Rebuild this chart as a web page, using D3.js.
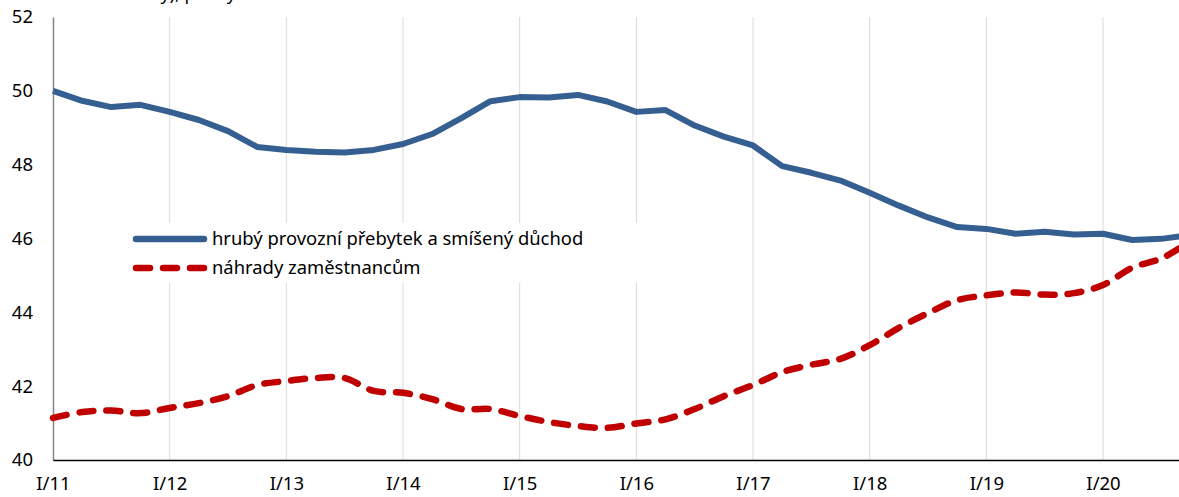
<!DOCTYPE html>
<html>
<head>
<meta charset="utf-8">
<script src="https://cdn.jsdelivr.net/npm/d3@7"></script>
<style>
  body { margin: 0; background: #fff; }
  svg { display: block; font-family: "Noto Sans", sans-serif; }
</style>
</head>
<body>
<div id="chart"></div>
<script>
// quarters I/11 .. IV/20
const years = ["11", "12", "13", "14", "15", "16", "17", "18", "19", "20"]
const quarters = ["I", "II", "III", "IV"]
const periods = []
years.forEach(y => quarters.forEach(q => periods.push(q + "/" + y)))

const surplus = [
  50.0, 49.73, 49.56, 49.62,
  49.43, 49.21, 48.91, 48.48,
  48.40, 48.35, 48.33, 48.40,
  48.56, 48.83, 49.26, 49.72,
  49.83, 49.82, 49.89, 49.71,
  49.43, 49.48, 49.06, 48.76,
  48.52, 47.96, 47.78, 47.57,
  47.24, 46.89, 46.57, 46.31,
  46.26, 46.13, 46.18, 46.11,
  46.13, 45.96, 45.99, 46.10
]
const wages = [
  41.14, 41.30, 41.34, 41.27,
  41.41, 41.54, 41.73, 42.03,
  42.14, 42.22, 42.22, 41.87,
  41.82, 41.65, 41.38, 41.38,
  41.19, 41.03, 40.92, 40.87,
  40.99, 41.10, 41.38, 41.73,
  42.03, 42.38, 42.58, 42.74,
  43.11, 43.58, 43.98, 44.33,
  44.46, 44.54, 44.48, 44.52,
  44.74, 45.21, 45.46, 45.93
]
const yTicks = [40, 42, 44, 46, 48, 50, 52]
const seriesNames = ["hrubý provozní přebytek a smíšený důchod", "náhrady zaměstnancům"]

const width = 1179
const height = 497
const plotLeft = 53, plotTop = 17, plotBottom = 460
const yearStep = 116.67

const svg = d3.select("#chart").append("svg")
    .attr("width", width)
    .attr("height", height)

const x = d3.scaleLinear()
    .domain([0, periods.length - 1])
    .range([plotLeft, plotLeft + (periods.length - 1) * yearStep / 4])

const y = d3.scaleLinear()
    .domain([40, 52])
    .range([plotBottom, plotTop])

// title, mostly above the visible area (only its descenders show)
svg.append("text")
    .attr("x", 236)
    .attr("y", 0)
    .attr("text-anchor", "end")
    .attr("font-size", 18)
    .attr("fill", "#000")
    .text("běžné ceny), podíly")

// vertical gridlines at every first quarter
const yearIdx = d3.range(0, periods.length, 4)
svg.append("g")
    .selectAll("line")
    .data(yearIdx.slice(1))
    .join("line")
      .attr("x1", d => x(d))
      .attr("x2", d => x(d))
      .attr("y1", plotTop)
      .attr("y2", plotBottom)
      .attr("stroke", "#d9d9d9")
      .attr("stroke-width", 1)

// y axis
const yAxis = svg.append("g")
    .attr("transform", `translate(${plotLeft},0)`)
    .call(d3.axisLeft(y).tickValues(yTicks).tickSize(0).tickPadding(20))
yAxis.select(".domain").attr("stroke", "#868686").attr("stroke-width", 1.5)
yAxis.selectAll("text")
    .attr("font-size", 18.5)
    .attr("font-family", "Noto Sans")
    .attr("fill", "#000")

// x axis
const xAxis = svg.append("g")
    .attr("transform", `translate(0,${plotBottom})`)
    .call(d3.axisBottom(x).tickValues(yearIdx).tickFormat(i => periods[i]).tickSize(0).tickPadding(17))
xAxis.select(".domain").attr("stroke", "#000").attr("stroke-width", 1.5)
xAxis.selectAll("text")
    .attr("font-size", 18.5)
    .attr("font-family", "Noto Sans")
    .attr("fill", "#000")

// legend box (covers gridlines)
svg.append("rect")
    .attr("x", 125)
    .attr("y", 223)
    .attr("width", 540)
    .attr("height", 60)
    .attr("fill", "#fff")

const blue = "#365f91"
const red = "#c00000"

const lineBlue = d3.line()
    .x((d, i) => x(i))
    .y(d => y(d))

const lineRed = d3.line()
    .x((d, i) => x(i))
    .y(d => y(d))
    .curve(d3.curveCatmullRom.alpha(0.5))

svg.append("path")
    .datum(surplus)
    .attr("d", lineBlue)
    .attr("fill", "none")
    .attr("stroke", blue)
    .attr("stroke-width", 6)
    .attr("stroke-linejoin", "round")

svg.append("path")
    .datum(wages)
    .attr("d", lineRed)
    .attr("fill", "none")
    .attr("stroke", red)
    .attr("stroke-width", 6.5)
    .attr("stroke-linecap", "round")
    .attr("stroke-dasharray", "14 13")

// legend
const legend = svg.append("g")
const items = [
  {name: seriesNames[0], color: blue, dash: null, y: 239},
  {name: seriesNames[1], color: red, dash: "14 13", y: 268}
]
items.forEach(it => {
  legend.append("line")
      .attr("x1", 136)
      .attr("x2", 204)
      .attr("y1", it.y)
      .attr("y2", it.y)
      .attr("stroke", it.color)
      .attr("stroke-width", 6.5)
      .attr("stroke-linecap", "round")
      .attr("stroke-dasharray", it.dash)
  legend.append("text")
      .attr("x", 212)
      .attr("y", it.y)
      .attr("dy", "0.35em")
      .attr("font-size", 18.4)
      .attr("fill", "#000")
      .text(it.name)
})
</script>
</body>
</html>
